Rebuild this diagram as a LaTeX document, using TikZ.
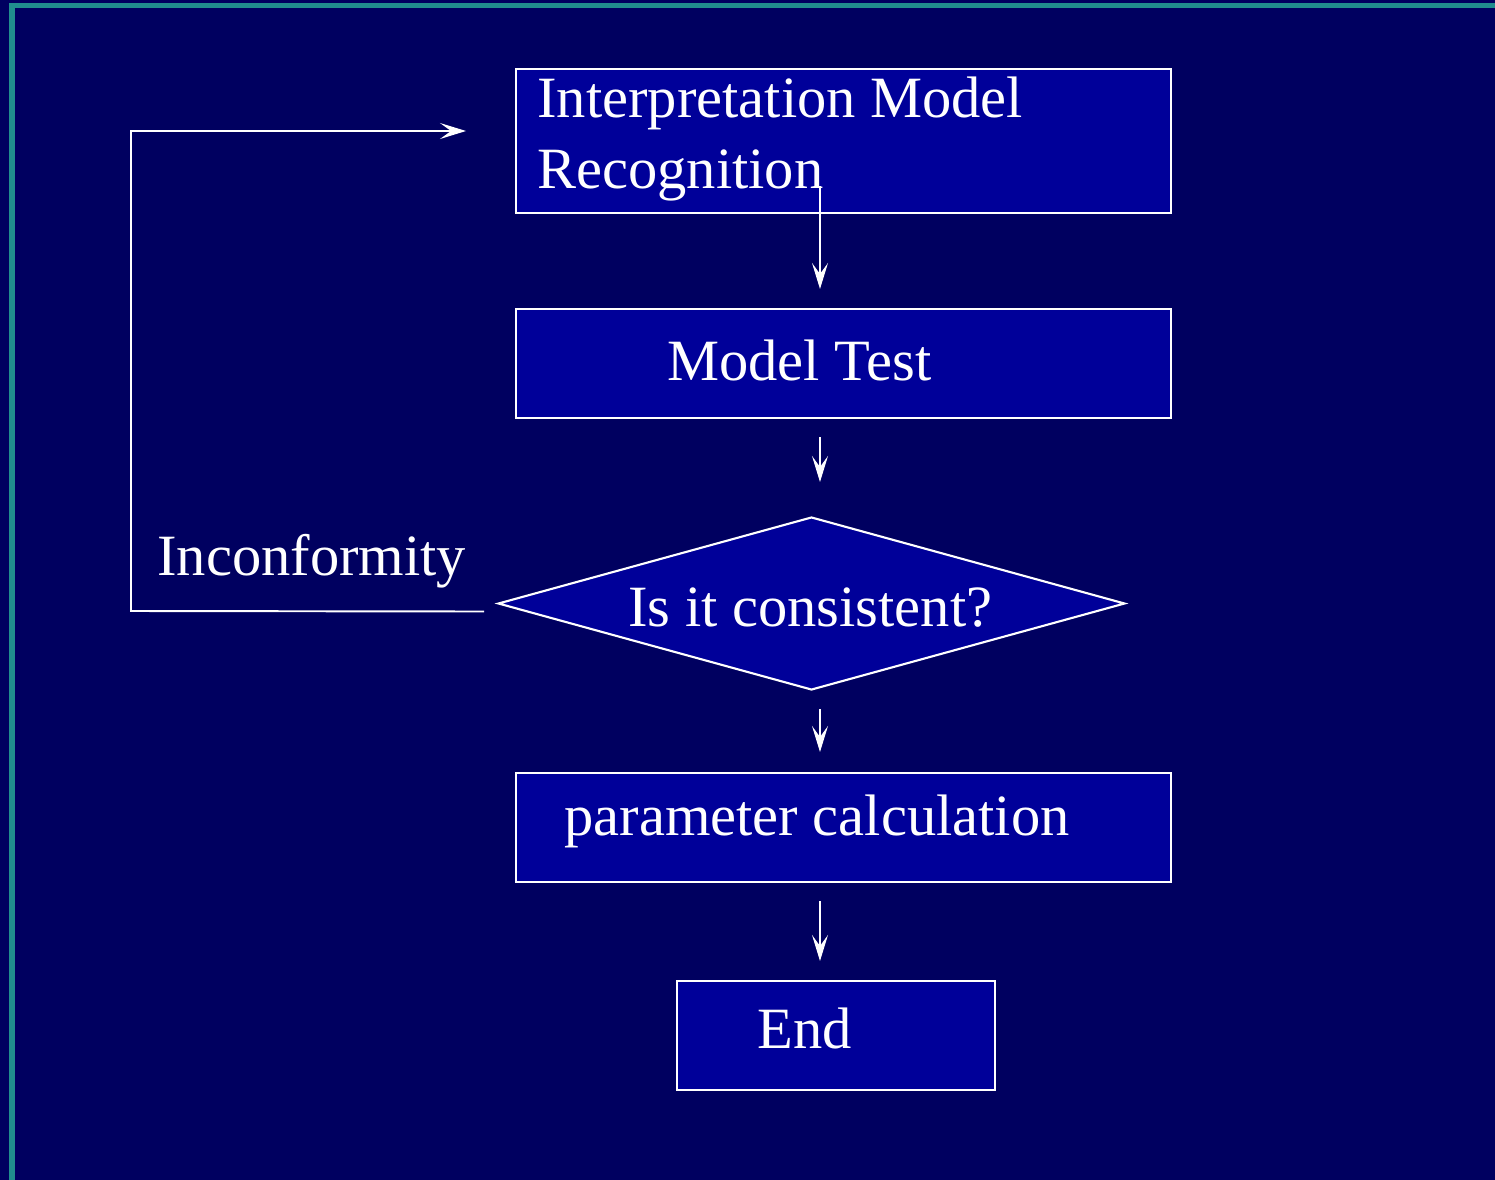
\documentclass[tikz,border=0pt]{standalone}
\usepackage{fontspec}
\setmainfont{Liberation Serif}
\usetikzlibrary{positioning,calc,shapes.geometric,arrows.meta}
\definecolor{slidebg}{RGB}{0,0,96}
\definecolor{boxblue}{RGB}{0,0,153}
\definecolor{frameteal}{RGB}{32,142,142}
\tikzset{x=0.02cm, y=-0.02cm,
  procbox/.style={draw=white, fill=boxblue, line width=1.2pt, inner sep=0pt,
    minimum width=13.1cm, minimum height=2.18cm},
  decidebox/.style={diamond, draw=white, fill=boxblue, line width=1.2pt, inner sep=0pt,
    aspect=3.6, minimum width=12.54cm, minimum height=3.46cm},
  boxtext/.style={text=white, inner sep=0pt, anchor=base west,
    font=\fontsize{33.3}{40}\selectfont},
  flowarrow/.style={draw=white, line width=1.1pt,
    -{Stealth[length=0.52cm, width=0.32cm, inset=0.22cm]}}}

\begin{document}
\begin{tikzpicture}
  \fill[slidebg] (0,0) rectangle (1495,1180);
  \useasboundingbox (0,0) rectangle (1495,1180);
  \draw[frameteal, line width=0.11cm] (12,1180) -- (12,5.5) -- (1495,5.5);

  % boxes
  \node[procbox, minimum height=2.88cm] (interp) at (843.5,141) {};
  \node[procbox] (test) at (843.5,363.5) {};
  \node[decidebox] (consist) at (811.5,603.5) {};
  \node[procbox] (param) at (843.5,827.5) {};
  \node[procbox, minimum width=6.36cm] (finish) at (836,1035.5) {};

  % texts
  \node[boxtext, align=left] (interptext) at (537,188) {Interpretation Model\\Recognition};
  \node[boxtext] (testtext) at (667,380) {Model Test};
  \node[boxtext] (consisttext) at (628,626) {Is it consistent?};
  \node[boxtext] (paramtext) at (564,835) {parameter calculation};
  \node[boxtext] (finishtext) at (757,1048) {End};
  \node[boxtext] (inconf) at (157,575) {Inconformity};

  % connectors
  \coordinate (axis) at (820,0);
  \coordinate (loopbot) at (131,611);
  \coordinate (looptop) at (131,131);
  \draw[flowarrow] ($(interp.south -| axis)+(0,-28)$) -- ($(test.north -| axis)+(0,-19)$);
  \draw[flowarrow] ($(test.south -| axis)+(0,18)$) -- ($(consist.north -| axis)+(0,-34)$);
  \draw[flowarrow] ($(consist.south -| axis)+(0,18)$) -- ($(param.north -| axis)+(0,-20)$);
  \draw[flowarrow] ($(param.south -| axis)+(0,18)$) -- ($(finish.north -| axis)+(0,-19)$);
  \draw[flowarrow] ($(consist.west)+(-13,8)$) -- (loopbot) -- (looptop)
    -- ($(interp.west)+(-49,-10)$);
\end{tikzpicture}
\end{document}
